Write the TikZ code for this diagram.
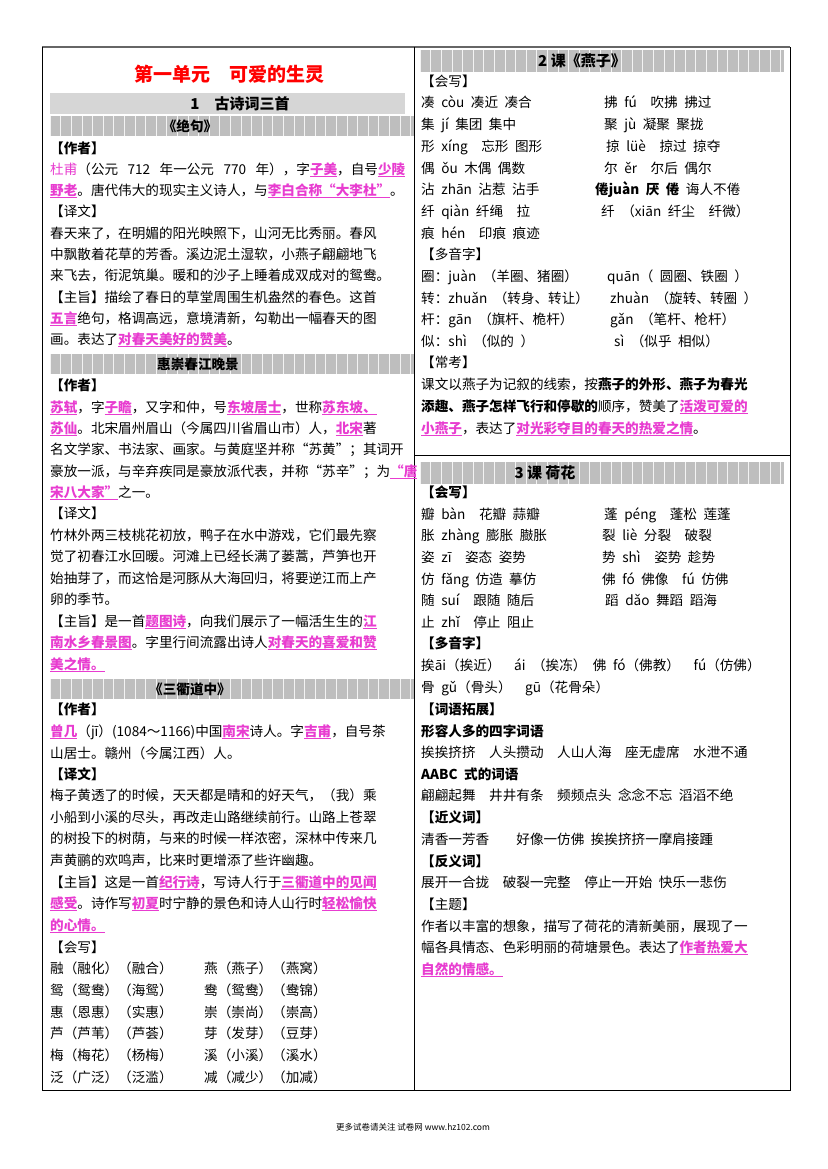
\documentclass[tikz,border=0pt]{standalone}
\usepackage{fontspec}
\setmainfont{Noto Sans CJK SC}
\XeTeXlinebreaklocale "zh"
\XeTeXlinebreakskip=0pt plus 1pt
\definecolor{mag}{HTML}{E83CD0}
\definecolor{bandA}{HTML}{D6D6D6}
\definecolor{bandB}{HTML}{BEBEBE}
\newsavebox\hlbox
\newcommand\hl[1]{{\color{mag}\bfseries\sbox\hlbox{#1}\rlap{\rule[-2.6pt]{\wd\hlbox}{0.9pt}}\usebox\hlbox}}
\newcommand\pk[1]{{\color{mag}#1}}
\newcommand\widesp{\spaceskip=6.5pt plus 1pt minus 0pt\relax}
\newcount\nc
\tikzset{
  txt/.style={anchor=west,inner sep=0pt,text height=10pt,text depth=3pt,font=\fontsize{13.6}{16}\selectfont\widesp},
  btxt/.style={txt,font=\fontsize{13.6}{16}\selectfont\bfseries\widesp},
  bandt/.style={inner sep=0pt,font=\fontsize{15}{17}\selectfont\bfseries},
}
\newcommand\Ln[3]{\global\advance\nc by 1 \node[txt] (t\the\nc) at (#1,#2) {#3};}
\newcommand\Bn[3]{\global\advance\nc by 1 \node[btxt] (t\the\nc) at (#1,#2) {#3};}
\newcommand\Jn[4]{\global\advance\nc by 1 \node[txt] (t\the\nc) at (#1,#2) {\makebox[#3][s]{#4}};}
\newcommand\Band[5]{% x1 y1 x2 y2 color
  \fill[#5] (#1,#2) rectangle (#3,#4);
  \begin{scope}
  \clip (#1,#2) rectangle (#3,#4);
  \foreach \i in {0,...,35} {\draw[white!82!#5,line width=0.4pt] ({#1+10.6*\i},#2) -- ({#1+10.6*\i},#4);}
  \end{scope}
}
\begin{document}
\begin{tikzpicture}[x=1pt,y=-1pt]
\useasboundingbox[fill=white] (0,0) rectangle (827,1169);
% frame
\draw[gray!80!black,line width=2pt] (42,47) -- (790,47);
\draw[black,line width=0.8pt] (42,47) -- (42,1090) -- (790,1090) -- (790,47);
\draw[black,line width=0.8pt] (414,47) -- (414,1090);
\draw[black,line width=0.6pt] (414,455) -- (790,455);
% ===== LEFT =====
\node[inner sep=0pt,font=\fontsize{19}{22}\selectfont\bfseries,text=red] (title) at (229,74) {第一单元\quad 可爱的生灵};
\fill[bandA] (50,93) rectangle (405,114);
\node[bandt] (b1) at (240,104) {1\quad 古诗词三首};
\Band{50}{116}{414}{136}{bandB}
\node[bandt,font=\fontsize{13.6}{16}\selectfont\bfseries] (b2) at (190,126) {《绝句》};
\Bn{50}{150}{【作者】}
\Jn{50}{171}{355pt}{\pk{杜甫}（公元 712 年一公元 770 年），字\hl{子美}，自号\hl{少陵}}
\Jn{50}{192}{355pt}{\hl{野老}。唐代伟大的现实主义诗人，与\hl{李白合称“大李杜”}。}
\Ln{50}{213}{【译文】}
\Jn{50}{235}{355pt}{春天来了，在明媚的阳光映照下，山河无比秀丽。春风}
\Jn{50}{256}{355pt}{中飘散着花草的芳香。溪边泥土湿软，小燕子翩翩地飞}
\Jn{50}{277}{355pt}{来飞去，衔泥筑巢。暖和的沙子上睡着成双成对的鸳鸯。}
\Jn{50}{299}{355pt}{【主旨】描绘了春日的草堂周围生机盎然的春色。这首}
\Jn{50}{320}{355pt}{\hl{五言}绝句，格调高远，意境清新，勾勒出一幅春天的图}
\Ln{50}{341}{画。表达了\hl{对春天美好的赞美}。}
\Band{50}{354}{414}{374}{bandB}
\node[bandt,font=\fontsize{13.6}{16}\selectfont\bfseries] (b3) at (198,364) {惠崇春江晚景};
\Bn{50}{387}{【作者】}
\Jn{50}{409}{355pt}{\hl{苏轼}，字\hl{子瞻}，又字和仲，号\hl{东坡居士}，世称\hl{苏东坡、}}
\Jn{50}{430}{355pt}{\hl{苏仙}。北宋眉州眉山（今属四川省眉山市）人，\hl{北宋}著}
\Jn{50}{451}{355pt}{名文学家、书法家、画家。与黄庭坚并称“苏黄”；其词开}
\Jn{50}{473}{355pt}{豪放一派，与辛弃疾同是豪放派代表，并称“苏辛”；为\hl{“唐}}
\Ln{50}{494}{\hl{宋八大家”}之一。}
\Ln{50}{515}{【译文】}
\Jn{50}{537}{355pt}{竹林外两三枝桃花初放，鸭子在水中游戏，它们最先察}
\Jn{50}{558}{355pt}{觉了初春江水回暖。河滩上已经长满了蒌蒿，芦笋也开}
\Jn{50}{580}{355pt}{始抽芽了，而这恰是河豚从大海回归，将要逆江而上产}
\Ln{50}{601}{卵的季节。}
\Jn{50}{623}{355pt}{【主旨】是一首\hl{题图诗}，向我们展示了一幅活生生的\hl{江}}
\Jn{50}{644}{355pt}{\hl{南水乡春景图}。字里行间流露出诗人\hl{对春天的喜爱和赞}}
\Ln{50}{666}{\hl{美之情。}}
\Band{50}{679}{414}{699}{bandB}
\node[bandt,font=\fontsize{13.6}{16}\selectfont\bfseries] (b4) at (190,689) {《三衢道中》};
\Bn{50}{711}{【作者】}
\Jn{50}{733}{355pt}{\hl{曾几}（jī）(1084～1166)中国\hl{南宋}诗人。字\hl{吉甫}，自号茶}
\Ln{50}{755}{山居士。赣州（今属江西）人。}
\Bn{50}{776}{【译文】}
\Jn{50}{797}{355pt}{梅子黄透了的时候，天天都是晴和的好天气，（我）乘}
\Jn{50}{819}{355pt}{小船到小溪的尽头，再改走山路继续前行。山路上苍翠}
\Jn{50}{840}{355pt}{的树投下的树荫，与来的时候一样浓密，深林中传来几}
\Ln{50}{862}{声黄鹂的欢鸣声，比来时更增添了些许幽趣。}
\Jn{50}{884}{355pt}{【主旨】这是一首\hl{纪行诗}，写诗人行于\hl{三衢道中的见闻}}
\Jn{50}{905}{355pt}{\hl{感受}。诗作写\hl{初夏}时宁静的景色和诗人山行时\hl{轻松愉快}}
\Ln{50}{927}{\hl{的心情。}}
\Ln{50}{949}{【会写】}
\Ln{50}{970}{融（融化）（融合）} \Ln{204}{970}{燕（燕子）（燕窝）}
\Ln{50}{992}{鸳（鸳鸯）（海鸳）} \Ln{204}{992}{鸯（鸳鸯）（鸯锦）}
\Ln{50}{1014}{惠（恩惠）（实惠）} \Ln{204}{1014}{崇（崇尚）（崇高）}
\Ln{50}{1035}{芦（芦苇）（芦荟）} \Ln{204}{1035}{芽（发芽）（豆芽）}
\Ln{50}{1057}{梅（梅花）（杨梅）} \Ln{204}{1057}{溪（小溪）（溪水）}
\Ln{50}{1079}{泛（广泛）（泛滥）} \Ln{204}{1079}{减（减少）（加减）}
% ===== RIGHT =====
\Band{420}{50}{784}{72}{bandB}
\node[bandt] (b5) at (582,61) {2 课《燕子》};
\Ln{421}{83}{【会写】}
\Ln{421}{104}{凑 còu 凑近 凑合} \Ln{604}{104}{拂 fú\quad 吹拂 拂过}
\Ln{421}{126}{集 jí 集团 集中} \Ln{604}{126}{聚 jù 凝聚 聚拢}
\Ln{421}{148}{形 xíng\quad 忘形 图形} \Ln{606}{148}{掠 lüè\quad 掠过 掠夺}
\Ln{421}{170}{偶 ǒu 木偶 偶数} \Ln{604}{170}{尔 ěr\quad 尔后 偶尔}
\Ln{421}{191}{沾 zhān 沾惹 沾手} \Ln{595}{191}{\bfseries 倦juàn 厌 倦\normalfont\ 诲人不倦}
\Ln{421}{213}{纤 qiàn 纤绳\quad 拉} \Ln{601}{213}{纤 （xiān 纤尘\quad 纤微）}
\Ln{421}{235}{痕 hén\quad 印痕 痕迹}
\Ln{421}{256}{【多音字】}
\Ln{421}{278}{圈：juàn （羊圈、猪圈）} \Ln{607}{278}{quān（ 圆圈、铁圈 ）}
\Ln{421}{300}{转：zhuǎn （转身、转让）} \Ln{610}{300}{zhuàn （旋转、转圈 ）}
\Ln{421}{321}{杆：gān （旗杆、桅杆）} \Ln{610}{321}{gǎn （笔杆、枪杆）}
\Ln{421}{343}{似：shì （似的 ）} \Ln{614}{343}{sì （似乎 相似）}
\Ln{421}{364}{【常考】}
\Jn{421}{386}{356pt}{课文以燕子为记叙的线索，按\textbf{燕子的外形、燕子为春光}}
\Jn{421}{408}{356pt}{\textbf{添趣、燕子怎样飞行和停歇的}顺序，赞美了\hl{活泼可爱的}}
\Ln{421}{430}{\hl{小燕子}，表达了\hl{对光彩夺目的春天的热爱之情}。}
\Band{420}{462}{784}{484}{bandB}
\node[bandt] (b6) at (545,473) {3 课\ 荷花};
\Bn{421}{494}{【会写】}
\Ln{421}{516}{瓣 bàn\quad 花瓣 蒜瓣} \Ln{604}{516}{蓬 péng\quad 蓬松 莲蓬}
\Ln{421}{537}{胀 zhàng 膨胀 臌胀} \Ln{602}{537}{裂 liè 分裂\quad 破裂}
\Ln{421}{559}{姿 zī\quad 姿态 姿势} \Ln{602}{559}{势 shì\quad 姿势 趁势}
\Ln{421}{581}{仿 fǎng 仿造 摹仿} \Ln{602}{581}{佛 fó 佛像\quad fú 仿佛}
\Ln{421}{602}{随 suí\quad 跟随 随后} \Ln{605}{602}{蹈 dǎo 舞蹈 蹈海}
\Ln{421}{624}{止 zhǐ\quad 停止 阻止}
\Bn{421}{645}{【多音字】}
\Ln{421}{667}{挨āi（挨近）\quad ái （挨冻） 佛 fó（佛教）\quad fú（仿佛）}
\Ln{421}{689}{骨 gǔ（骨头）\quad gū（花骨朵）}
\Bn{421}{711}{【词语拓展】}
\Bn{421}{733}{形容人多的四字词语}
\Ln{421}{754}{挨挨挤挤\quad 人头攒动\quad 人山人海\quad 座无虚席\quad 水泄不通}
\Bn{421}{776}{AABC 式的词语}
\Ln{421}{797}{翩翩起舞\quad 井井有条\quad 频频点头 念念不忘 滔滔不绝}
\Bn{421}{819}{【近义词】}
\Ln{421}{841}{清香一芳香\qquad 好像一仿佛 挨挨挤挤一摩肩接踵}
\Bn{421}{863}{【反义词】}
\Ln{421}{884}{展开一合拢\quad 破裂一完整\quad 停止一开始 快乐一悲伤}
\Ln{421}{906}{【主题】}
\Jn{421}{928}{356pt}{作者以丰富的想象，描写了荷花的清新美丽，展现了一}
\Jn{421}{949}{356pt}{幅各具情态、色彩明丽的荷塘景色。表达了\hl{作者热爱大}}
\Ln{421}{971}{\hl{自然的情感。}}
% footer
\node[inner sep=0pt,font=\fontsize{8.5}{10}\selectfont] (foot) at (413,1127) {更多试卷请关注 试卷网 www.hz102.com};
\end{tikzpicture}
\end{document}
